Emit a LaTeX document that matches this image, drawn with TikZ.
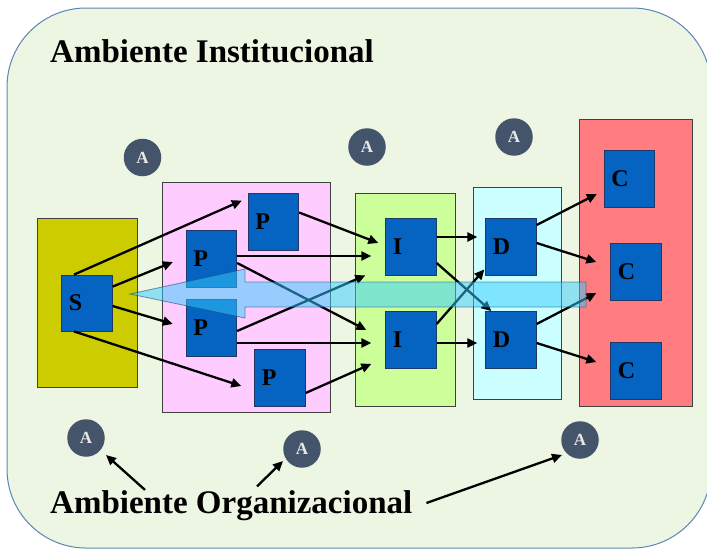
\documentclass[tikz,border=0pt]{standalone}
\usepackage{fontspec}
\setmainfont{Liberation Serif}
\usetikzlibrary{arrows.meta,calc}
\definecolor{bgfill}{HTML}{EDF5E3}
\definecolor{bgline}{HTML}{5B87B5}
\definecolor{yel}{HTML}{CCCC00}
\definecolor{pnk}{HTML}{FFCCFF}
\definecolor{grn}{HTML}{CCFF99}
\definecolor{cyn}{HTML}{CCFFFF}
\definecolor{rdd}{HTML}{FF7C80}
\definecolor{blk}{HTML}{0563C1}
\definecolor{blkline}{HTML}{1F3864}
\definecolor{contline}{HTML}{404040}
\definecolor{acol}{HTML}{44546A}
\definecolor{atext}{HTML}{E8E8E8}
\definecolor{bigarrow}{HTML}{33CCFF}
\definecolor{bigline}{HTML}{1F4E79}
\begin{document}
\begin{tikzpicture}[x=1pt,y=-1pt,
  cont/.style={draw=contline, line width=0.9pt, inner sep=0pt},
  blkbox/.style={draw=blkline, fill=blk, line width=0.8pt, minimum height=57pt,
    inner xsep=7pt, inner ysep=0pt, text width=36.5pt, align=left,
    font=\fontsize{24}{24}\selectfont\bfseries},
  acirc/.style={circle, fill=acol, minimum size=37.5pt, inner sep=0pt, text=atext,
    font=\fontsize{17}{17}\selectfont\bfseries},
  arr/.style={-{Triangle[length=10pt,width=9pt]}, line width=2.3pt},
  ttl/.style={anchor=base west, inner sep=0pt, font=\fontsize{33}{33}\selectfont\bfseries}
]
\useasboundingbox (0,0) rectangle (707,549);
% background
\path[fill=bgfill, draw=bgline, line width=1pt, rounded corners=79pt] (7,8) rectangle (711,548);

% containers
\node[cont, fill=yel, minimum width=100pt, minimum height=169pt] (ybox) at (87,302.5) {};
\node[cont, fill=pnk, minimum width=168pt, minimum height=230pt] (pbox) at (246,297) {};
\node[cont, fill=grn, minimum width=100pt, minimum height=213pt] (gbox) at (405,299.5) {};
\node[cont, fill=cyn, minimum width=88pt, minimum height=212pt] (cbox) at (517,293) {};
\node[cont, fill=rdd, minimum width=113pt, minimum height=287pt] (rbox) at (635.5,262.5) {};

% A circles
\node[acirc] (A1) at (142.5,157.5) {A};
\node[acirc] (A2) at (367,147) {A};
\node[acirc] (A3) at (514,137) {A};
\node[acirc] (A4) at (86,438) {A};
\node[acirc] (A5) at (302,449) {A};
\node[acirc] (A6) at (580,440) {A};

% titles
\node[ttl] (AI) at (50,62) {Ambiente Institucional};
\node[ttl] (AO) at (50,513) {Ambiente Organizacional};

% blocks
\node[blkbox, minimum height=56pt] (S) at (87,303) {S};
\node[blkbox] (P1) at (273.5,221.5) {P};
\node[blkbox] (P2) at (211.5,259) {P};
\node[blkbox] (P3) at (211.5,328) {P};
\node[blkbox] (P4) at (280,378) {P};
\node[blkbox] (I1) at (411,246.5) {I};
\node[blkbox] (I2) at (411,340) {I};
\node[blkbox] (D1) at (511,246.5) {D};
\node[blkbox] (D2) at (511,340) {D};
\node[blkbox] (C1) at (629.5,178.5) {C};
\node[blkbox] (C2) at (636,271.5) {C};
\node[blkbox] (C3) at (636,371) {C};

% S -> P
\draw[arr] ([xshift=-13pt]S.north) -- ([xshift=-6pt,yshift=-8pt]P1.north west);
\draw[arr] ([yshift=-12pt]S.north east) -- ([xshift=-13pt,yshift=-3pt]P2.west);
\draw[arr] ([yshift=-3pt]S.east) -- ([xshift=-13pt,yshift=4pt]P3.west);
\draw[arr] ([xshift=-13pt]S.south) -- ([xshift=-13pt,yshift=-8pt]P4.west);
% P -> I
\draw[arr] ([yshift=9pt]P1.east) -- ([xshift=-7pt,yshift=3.5pt]I1.west);
\draw[arr, shorten >=14pt] ([yshift=3pt]P2.east) -- ([yshift=3pt]P2.east -| I1.west);
\draw[arr] ([yshift=-4pt]P2.east) -- ([xshift=-19pt,yshift=10pt]I2.west);
\draw[arr] ([yshift=-3pt]P3.east) -- ([xshift=-20pt]I1.south west);
\draw[arr, shorten >=14pt] ([yshift=-15pt]P3.east) -- ([yshift=-15pt]P3.east -| I2.west);
\draw[arr] ([yshift=-15pt]P4.east) -- ([xshift=-14pt,yshift=5pt]I2.south west);
% I -> D
\draw[arr, shorten >=8pt] ([yshift=9.5pt]I1.east) -- ([yshift=9.5pt]I1.east -| D1.west);
\draw[arr] ([yshift=-16.5pt]I1.east) -- ([xshift=6pt]D2.north west);
\draw[arr] ([yshift=16pt]I2.east) -- ([xshift=-1pt,yshift=6pt]D1.south west);
\draw[arr, shorten >=8pt] ([yshift=-3pt]I2.east) -- ([yshift=-3pt]I2.east -| D2.west);
% D -> C
\draw[arr] ([yshift=21.5pt]D1.east) -- ([xshift=-7pt,yshift=-15.5pt]C1.west);
\draw[arr] ([yshift=3.5pt]D1.east) -- ([xshift=-14pt,yshift=9.5pt]C2.west);
\draw[arr] ([yshift=16pt]D2.east) -- ([xshift=-14pt,yshift=-21.5pt]C2.west);
\draw[arr] ([yshift=-3pt]D2.east) -- ([xshift=-14pt,yshift=9pt]C3.west);

% Ambiente Organizacional -> A
\draw[arr] ([xshift=95pt]AO.north west) -- ([xshift=20pt,yshift=-17pt]A4.center);
\draw[arr] ([xshift=207pt,yshift=3.5pt]AO.north west) -- ([xshift=-19pt,yshift=-12pt]A5.center);
\draw[arr] ([xshift=14pt,yshift=10pt]AO.base east) -- ([xshift=-18pt,yshift=-15pt]A6.center);

% big translucent arrow
\path[fill=bigarrow, draw=bigline, fill opacity=0.5, draw opacity=0.6, line width=0.8pt]
  (130,294) -- (245,269) -- (245,282) -- (586,282) -- (586,307) -- (245,307) -- (245,318) -- cycle;
\end{tikzpicture}
\end{document}
